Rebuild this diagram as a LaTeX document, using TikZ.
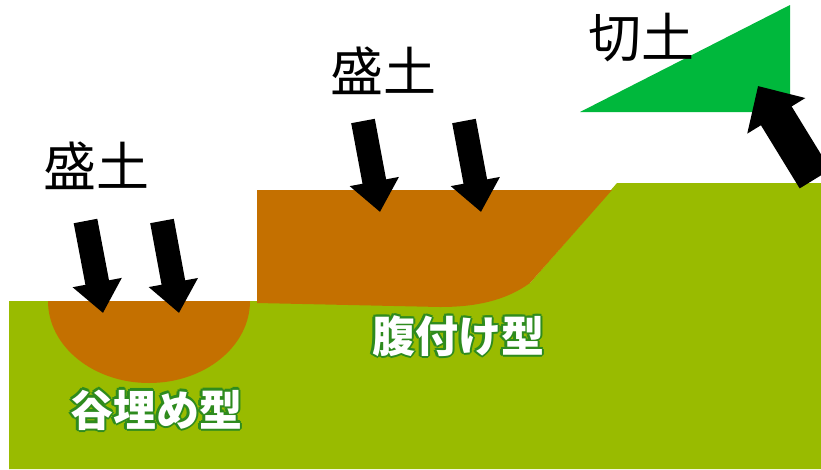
\documentclass[tikz,border=0pt]{standalone}
\usepackage{fontspec}
\usetikzlibrary{arrows.meta}
\newfontfamily\jpfont{Noto Sans CJK JP}
\definecolor{ground}{HTML}{99BB00}
\definecolor{soilbrown}{HTML}{C47000}
\definecolor{cutgreen}{HTML}{00B83C}
\definecolor{labeledge}{HTML}{2E8B1E}
% white lettering with a green halo: eight shifted copies under the text
\newcommand\halocopy[3]{\rlap{\kern#1\raisebox{#2}{\color{labeledge}#3}}}
\newcommand\haloed[1]{%
  \halocopy{-2.2pt}{0pt}{#1}\halocopy{2.2pt}{0pt}{#1}%
  \halocopy{0pt}{2.2pt}{#1}\halocopy{0pt}{-2.2pt}{#1}%
  \halocopy{-1.6pt}{1.6pt}{#1}\halocopy{1.6pt}{1.6pt}{#1}%
  \halocopy{-1.6pt}{-1.6pt}{#1}\halocopy{1.6pt}{-1.6pt}{#1}%
  {\color{white}#1}}
\tikzset{
  soil/.style={text=black, inner sep=0pt, font=\jpfont\fontsize{53pt}{60pt}\selectfont},
  kind/.style={inner sep=0pt, font=\jpfont\bfseries\fontsize{43pt}{50pt}\selectfont},
  press/.style={line width=24pt, -{Triangle[length=31pt,width=48pt]}},
  lift/.style={line width=36pt, -{Triangle[length=35pt,width=66pt]}},
}
\begin{document}
\begin{tikzpicture}[x=1pt,y=-1pt]
\useasboundingbox (0,0) rectangle (821,469);
\clip (0,0) rectangle (821,469);
\fill[white] (0,0) rectangle (821,469);

% natural ground with the slope on the right
\fill[ground] (9,301) -- (258,301) -- (530,283) -- (617,183) -- (821,183)
  -- (821,469) -- (9,469) -- cycle;

% valley fill
\fill[soilbrown] (48,301) arc[start angle=180, end angle=0, x radius=101, y radius=82] -- cycle;

% fill placed against the slope
\fill[soilbrown] (257,190) -- (612,190) -- (530,283)
  .. controls (505,301) and (475,307) .. (440,307) -- (257,303) -- cycle;

% cut wedge
\fill[cutgreen] (580,112) -- (790,5) -- (790,112) -- cycle;

% labels
\node[soil] (fillA) at (96,166) {盛土};
\node[soil] (fillB) at (383,71) {盛土};
\node[soil] (cutlbl) at (641,38) {切土};
\node[kind] (valley) at (156,410) {\haloed{谷埋め型}};
\node[kind] (flank) at (458,336) {\haloed{腹付け型}};

% load arrows
\coordinate (a1s) at (85.5,221);  \coordinate (a1e) at (103,313);
\coordinate (a2s) at (162,221);   \coordinate (a2e) at (179,313);
\coordinate (b1s) at (363,121);   \coordinate (b1e) at (380,212);
\coordinate (b2s) at (464,121);   \coordinate (b2e) at (481,212);
\coordinate (cs) at (815,179);    \coordinate (ce) at (758,86);
\draw[press] (a1s) -- (a1e);
\draw[press] (a2s) -- (a2e);
\draw[press] (b1s) -- (b1e);
\draw[press] (b2s) -- (b2e);
\draw[lift] (cs) -- (ce);
\end{tikzpicture}
\end{document}
